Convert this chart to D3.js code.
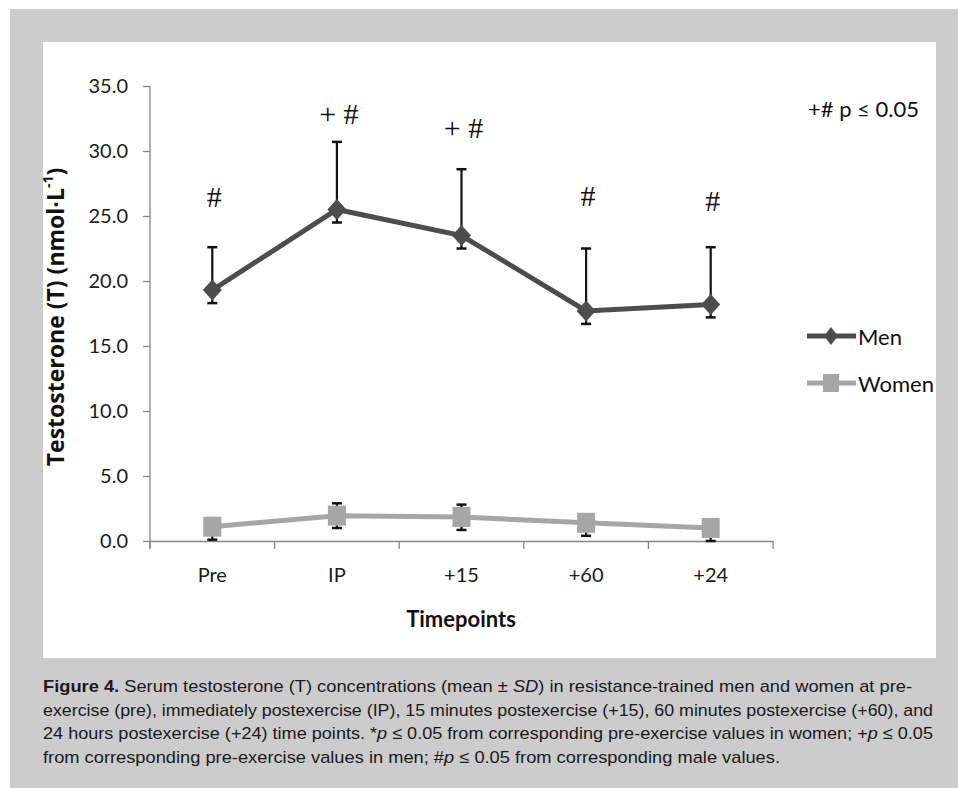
<!DOCTYPE html>
<html>
<head>
<meta charset="utf-8">
<script src="https://cdn.jsdelivr.net/npm/d3@7"></script>
<style>
  html, body { margin: 0; padding: 0; background: #ffffff; }
  svg { display: block; }
</style>
</head>
<body>
<svg id="chart" width="958" height="788"></svg>
<script>
// ---- data ----
const categories = ["Pre", "IP", "+15", "+60", "+24"];
const menMean  = [19.3, 25.5, 23.5, 17.7, 18.2];
const menUpper = [22.6, 30.7, 28.6, 22.5, 22.6];
const menLower = [18.3, 24.5, 22.5, 16.7, 17.2];
const womenMean  = [1.1, 1.95, 1.85, 1.4, 1.0];
const womenUpper = [1.6, 2.9, 2.8, 1.9, 1.4];
const womenLower = [0.1, 1.0, 0.85, 0.4, 0.0];
const yTicks = [0, 5, 10, 15, 20, 25, 30, 35];
const annotLabels = ["#", "+ #", "+ #", "#", "#"];
const annotLevels = [26.5, 32.9, 31.8, 26.6, 26.2];
const seriesNames = ["Men", "Women"];
const sigNote = "+# p \u2264 0.05";
const xTitle = "Timepoints";

const svg = d3.select("#chart");

// background panels
svg.append("rect").attr("x", 10).attr("y", 9).attr("width", 948).attr("height", 779).attr("fill", "#cccccc");
svg.append("rect").attr("x", 43).attr("y", 42).attr("width", 893).attr("height", 616).attr("fill", "#ffffff");

const x = d3.scaleBand().domain(categories).range([150, 773]).padding(0);
const y = d3.scaleLinear().domain([0, 35]).range([541, 86]);
const cx = c => x(c) + x.bandwidth() / 2;

const axisColor = "#868686";
const tickFont = "Lato, 'Open Sans', sans-serif";

// y axis
const yAxis = svg.append("g").attr("transform", "translate(150,0)")
  .call(d3.axisLeft(y).tickValues(yTicks).tickFormat(d3.format(".1f")).tickSize(7).tickSizeOuter(0));
yAxis.select(".domain").attr("stroke", axisColor).attr("stroke-width", 1.3).attr("d", `M0,${y(35)}V${y(0) + 7}`);
yAxis.selectAll(".tick line").attr("stroke", axisColor).attr("stroke-width", 1.3);
yAxis.selectAll(".tick text").attr("x", -22).attr("font-family", tickFont).attr("font-size", 20).attr("fill", "#1a1a1a");

// x axis
const xAxis = svg.append("g").attr("transform", `translate(0,${y(0)})`)
  .call(d3.axisBottom(x).tickSize(0).tickSizeOuter(0));
xAxis.select(".domain").attr("stroke", axisColor).attr("stroke-width", 1.3);
xAxis.selectAll(".tick text").attr("y", 34).attr("dy", "0.35em").attr("font-family", tickFont).attr("font-size", 20).attr("fill", "#1a1a1a");
// boundary ticks
const bounds = categories.map(c => x(c)).concat([x(categories[categories.length - 1]) + x.bandwidth()]);
xAxis.selectAll("line.bound").data(bounds).enter().append("line")
  .attr("class", "bound").attr("x1", d => d).attr("x2", d => d).attr("y1", 0).attr("y2", 8)
  .attr("stroke", axisColor).attr("stroke-width", 1.3);

// axis titles
svg.append("text").attr("x", 461).attr("y", 618).attr("text-anchor", "middle").attr("dominant-baseline", "central")
  .attr("font-family", tickFont).attr("font-weight", "bold").attr("font-size", 22).attr("fill", "#111")
  .text(xTitle);

const yt = svg.append("text").attr("transform", "translate(55,317) rotate(-90)")
  .attr("text-anchor", "middle").attr("dominant-baseline", "central")
  .attr("font-family", "'Open Sans', sans-serif").attr("font-weight", "bold").attr("font-size", 23).attr("fill", "#111");
yt.append("tspan").text("Testosterone (T) (nmol\u00B7L");
yt.append("tspan").attr("dy", -8).attr("font-size", 14).text("-1");
yt.append("tspan").attr("dy", 8).text(")");

// error bars
function errorBars(mean, lo, hi, cls) {
  const g = svg.append("g").attr("class", cls);
  const d = categories.map((c, i) => ({ c, lo: lo[i], hi: hi[i] }));
  g.selectAll("line.v").data(d).enter().append("line").attr("class", "v")
    .attr("x1", e => cx(e.c)).attr("x2", e => cx(e.c)).attr("y1", e => y(e.lo)).attr("y2", e => y(e.hi))
    .attr("stroke", "#111").attr("stroke-width", 2.2);
  ["lo", "hi"].forEach(k => {
    g.selectAll("line.c" + k).data(d).enter().append("line").attr("class", "c" + k)
      .attr("x1", e => cx(e.c) - 5).attr("x2", e => cx(e.c) + 5).attr("y1", e => y(e[k])).attr("y2", e => y(e[k]))
      .attr("stroke", "#111").attr("stroke-width", 2.5);
  });
}
errorBars(menMean, menLower, menUpper, "men-err");
errorBars(womenMean, womenLower, womenUpper, "women-err");

const line = d3.line().x((d, i) => cx(categories[i])).y(d => y(d));
const menColor = "#4d4d4d";
const womenColor = "#a6a6a6";

// women series
svg.append("path").datum(womenMean).attr("d", line).attr("fill", "none").attr("stroke", womenColor).attr("stroke-width", 5);
svg.selectAll("rect.wm").data(womenMean).enter().append("rect").attr("class", "wm")
  .attr("x", (d, i) => cx(categories[i]) - 9).attr("y", d => y(d) - 10).attr("width", 18).attr("height", 20)
  .attr("fill", womenColor);

// men series
svg.append("path").datum(menMean).attr("d", line).attr("fill", "none").attr("stroke", menColor).attr("stroke-width", 5);
svg.selectAll("path.mm").data(menMean).enter().append("path").attr("class", "mm")
  .attr("d", (d, i) => { const px = cx(categories[i]), py = y(d); return `M${px},${py - 10.5}L${px + 9.5},${py}L${px},${py + 10.5}L${px - 9.5},${py}Z`; })
  .attr("fill", menColor);

// significance annotations
svg.selectAll("text.annot").data(annotLabels).enter().append("text").attr("class", "annot")
  .attr("x", (d, i) => cx(categories[i]) + 2).attr("y", (d, i) => y(annotLevels[i]))
  .attr("text-anchor", "middle").attr("dominant-baseline", "central")
  .attr("font-family", "'Liberation Serif', 'DejaVu Serif', serif").attr("font-size", 30).attr("fill", "#111")
  .text(d => d);

svg.append("text").attr("x", 808).attr("y", 108).attr("dominant-baseline", "central")
  .attr("font-family", tickFont).attr("font-size", 22).attr("fill", "#111").text(sigNote);

// legend
const legY = [336, 383];
const leg = svg.append("g");
leg.append("line").attr("x1", 807).attr("x2", 856).attr("y1", legY[0]).attr("y2", legY[0]).attr("stroke", menColor).attr("stroke-width", 5);
leg.append("path").attr("d", `M831,${legY[0] - 9}L838,${legY[0]}L831,${legY[0] + 9}L824,${legY[0]}Z`).attr("fill", menColor);
leg.append("line").attr("x1", 807).attr("x2", 856).attr("y1", legY[1]).attr("y2", legY[1]).attr("stroke", womenColor).attr("stroke-width", 5);
leg.append("rect").attr("x", 823).attr("y", legY[1] - 9).attr("width", 16).attr("height", 18).attr("fill", womenColor);
leg.selectAll("text").data(seriesNames).enter().append("text")
  .attr("x", 858).attr("y", (d, i) => legY[i]).attr("dominant-baseline", "central")
  .attr("font-family", tickFont).attr("font-size", 22).attr("fill", "#111").text(d => d);

// caption
const capFont = "'Liberation Sans', Arial, Helvetica, sans-serif";
const capLines = [
  { w: 869, parts: [["Figure 4.", "bold", "normal"], [" Serum testosterone (T) concentrations (mean \u00B1 ", "normal", "normal"], ["SD", "normal", "italic"], [") in resistance-trained men and women at pre-", "normal", "normal"]] },
  { w: 890, parts: [["exercise (pre), immediately postexercise (IP), 15 minutes postexercise (+15), 60 minutes postexercise (+60), and", "normal", "normal"]] },
  { w: 890, parts: [["24 hours postexercise (+24) time points. *", "normal", "normal"], ["p", "normal", "italic"], [" \u2264 0.05 from corresponding pre-exercise values in women; +", "normal", "normal"], ["p", "normal", "italic"], [" \u2264 0.05", "normal", "normal"]] },
  { w: 737, parts: [["from corresponding pre-exercise values in men; #", "normal", "normal"], ["p", "normal", "italic"], [" \u2264 0.05 from corresponding male values.", "normal", "normal"]] }
];
const capBase = [692, 715.5, 739, 762.5];
capLines.forEach((ln, i) => {
  const t = svg.append("text").attr("x", 43).attr("y", capBase[i])
    .attr("font-family", capFont).attr("font-size", 17).attr("fill", "#1a1a1a")
    .attr("textLength", ln.w).attr("lengthAdjust", "spacingAndGlyphs")
    .attr("xml:space", "preserve").style("white-space", "pre");
  ln.parts.forEach(p => t.append("tspan").attr("font-weight", p[1]).attr("font-style", p[2]).text(p[0]));
});
</script>
</body>
</html>
